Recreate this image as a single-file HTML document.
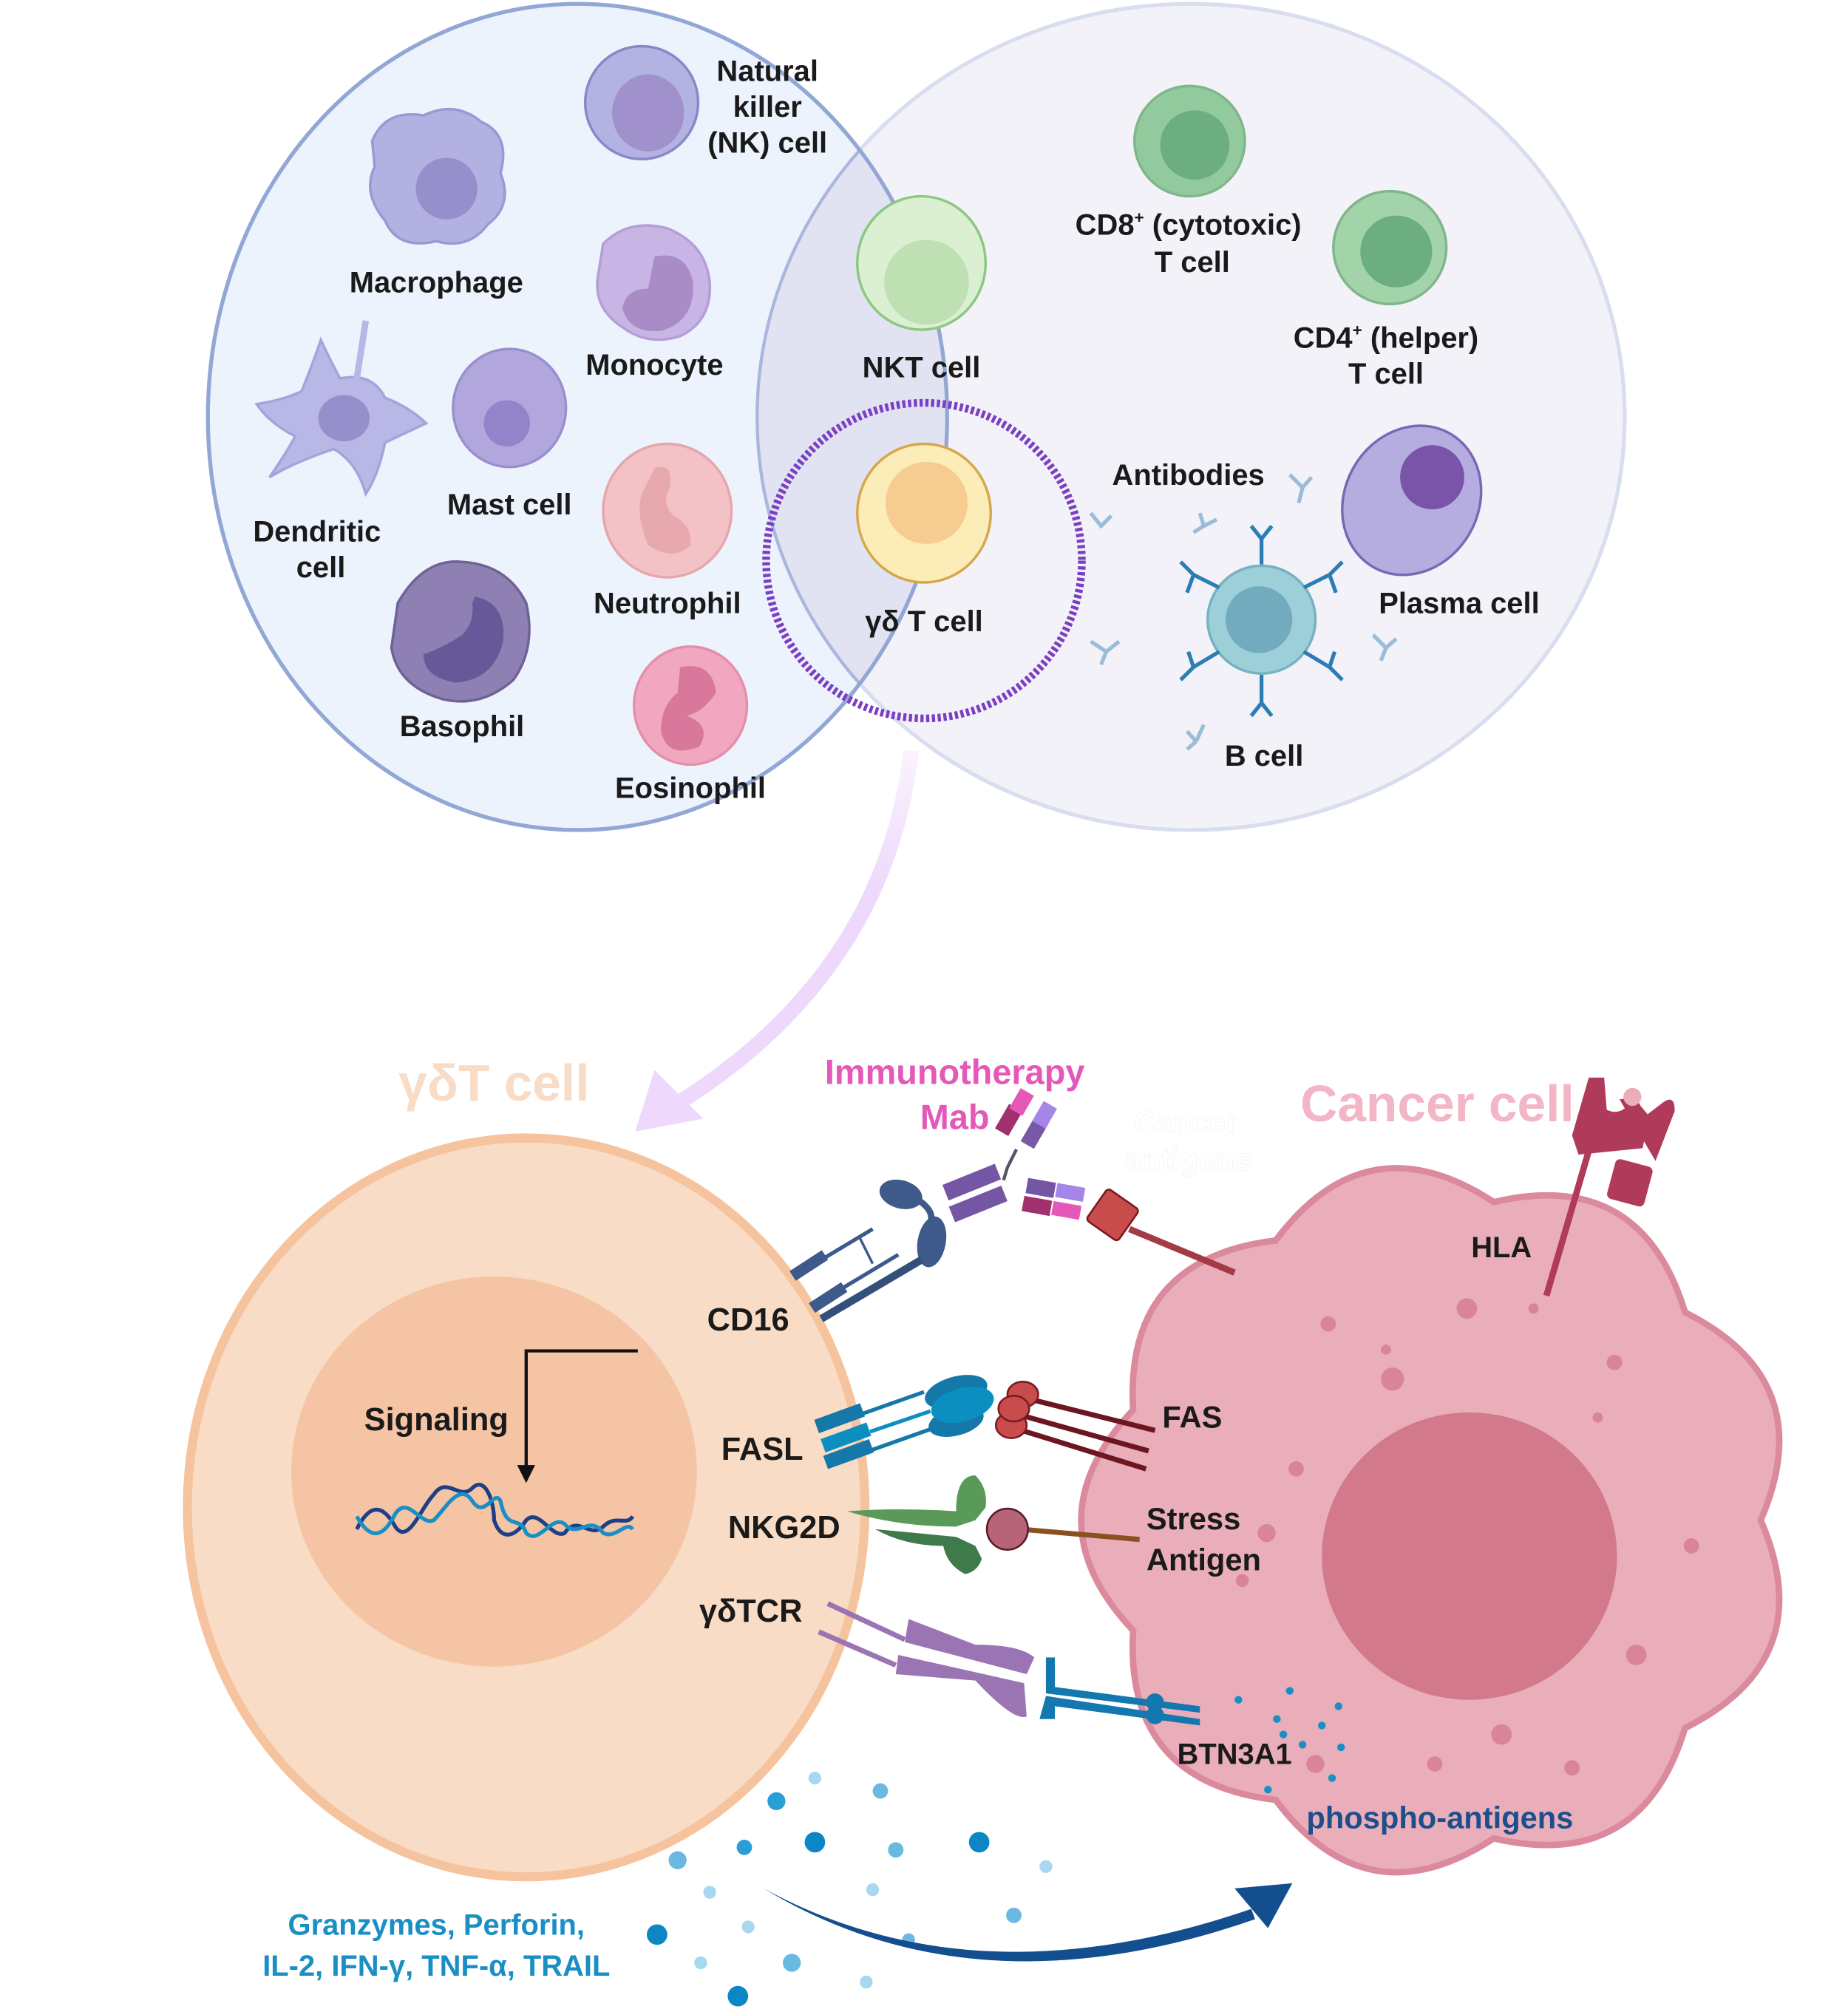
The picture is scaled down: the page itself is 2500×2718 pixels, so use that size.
<!DOCTYPE html>
<html><head><meta charset="utf-8"><style>
html,body{margin:0;padding:0;background:#fff}
svg{display:block}
text{font-family:"Liberation Sans",sans-serif;font-weight:bold}
</style></head><body>
<svg width="2500" height="2718" viewBox="0 0 1440 1566" preserveAspectRatio="none" xmlns="http://www.w3.org/2000/svg">
<defs>
<clipPath id="lc"><ellipse cx="450" cy="325" rx="288" ry="322"/></clipPath>
<linearGradient id="pg" x1="0" y1="0" x2="0" y2="1"><stop offset="0" stop-color="#eed8fb" stop-opacity="0.3"/><stop offset="0.4" stop-color="#eed8fb"/><stop offset="1" stop-color="#eed8fb"/></linearGradient>
</defs>
<!-- Venn -->
<ellipse cx="928" cy="325" rx="338" ry="322" fill="#f3f2f8" stroke="#d8def0" stroke-width="3"/>
<ellipse cx="450" cy="325" rx="288" ry="322" fill="#edf3fc" stroke="#93a7d6" stroke-width="3"/>
<ellipse cx="928" cy="325" rx="338" ry="322" fill="#e2e3f2" clip-path="url(#lc)"/>
<ellipse cx="928" cy="325" rx="338" ry="322" fill="none" stroke="#a9b7de" stroke-width="2.5" clip-path="url(#lc)"/>
<ellipse cx="450" cy="325" rx="288" ry="322" fill="none" stroke="#93a7d6" stroke-width="3"/>
<circle cx="720" cy="437" r="123" fill="none" stroke="#7b3fc4" stroke-width="6" stroke-dasharray="2.5 2"/>

<!-- cells left -->
<ellipse cx="500" cy="80" rx="44" ry="44" fill="#b3b3e3" stroke="#8b86c8" stroke-width="2"/>
<ellipse cx="505" cy="88" rx="28" ry="30" fill="#a090cc"/>
<path d="M290,110 Q300,85 330,90 Q355,78 375,95 Q398,105 390,135 Q400,160 380,175 Q365,195 340,188 Q310,195 300,172 Q282,150 292,130 Z" fill="#b3b1e2" stroke="#9b98d3" stroke-width="2"/>
<circle cx="348" cy="147" r="24" fill="#968fcb"/>
<path d="M470,190 Q490,170 520,178 Q550,190 553,220 Q555,250 530,262 Q505,270 485,255 Q462,240 466,215 Z" fill="#c9b5e5" stroke="#b39fd6" stroke-width="2"/>
<path d="M510,200 Q535,195 540,220 Q542,250 515,258 Q490,260 485,240 Q488,225 505,225 Z" fill="#a98bc6"/>
<path d="M265,295 Q290,290 300,310 Q320,318 332,330 Q315,338 300,345 Q295,370 285,385 Q278,360 260,350 Q230,360 210,372 Q225,350 230,340 Q210,330 200,315 Q220,312 235,305 Q245,280 250,265 Q258,282 265,295 Z" fill="#b8b7e6" stroke="#a5a3dc" stroke-width="2"/>
<line x1="278" y1="295" x2="285" y2="250" stroke="#b8b7e6" stroke-width="5"/>
<ellipse cx="268" cy="326" rx="20" ry="18" fill="#978fcb"/>
<ellipse cx="397" cy="318" rx="44" ry="46" fill="#b2a7dc" stroke="#9a8fcd" stroke-width="2"/>
<circle cx="395" cy="330" r="18" fill="#9184c8"/>
<ellipse cx="520" cy="398" rx="50" ry="52" fill="#f3c2c6" stroke="#e7a6ae" stroke-width="2"/>
<path d="M510,365 Q525,360 522,380 Q515,392 525,402 Q540,410 538,425 Q525,438 505,425 Q495,400 500,385 Z" fill="#e8a9ae"/>
<path d="M310,470 Q330,435 360,438 Q395,440 410,470 Q418,505 400,530 Q375,552 345,545 Q310,535 305,505 Z" fill="#8e80b3" stroke="#6f6296" stroke-width="2"/>
<path d="M370,465 Q395,470 392,500 Q385,530 355,532 Q330,528 330,510 Q345,505 360,495 Q370,485 368,470 Z" fill="#65599a"/>
<ellipse cx="538" cy="550" rx="44" ry="46" fill="#f1a7bf" stroke="#e58fa9" stroke-width="2"/>
<path d="M530,520 Q555,515 558,540 Q548,555 535,558 Q555,565 545,582 Q520,592 515,570 Q515,550 528,540 Z" fill="#d8789a"/>
<!-- cells middle -->
<ellipse cx="718" cy="205" rx="50" ry="52" fill="#dbf0d3" stroke="#8cc882" stroke-width="2"/>
<ellipse cx="722" cy="220" rx="33" ry="33" fill="#bfe0b3"/>
<ellipse cx="720" cy="400" rx="52" ry="54" fill="#fcecb8" stroke="#d5a84d" stroke-width="2"/>
<ellipse cx="722" cy="392" rx="32" ry="32" fill="#f6cc90"/>
<!-- cells right -->
<circle cx="927" cy="110" r="43" fill="#93ca9d" stroke="#7fb68a" stroke-width="2"/>
<circle cx="931" cy="113" r="27" fill="#6cae80"/>
<circle cx="1083" cy="193" r="44" fill="#a3d3a8" stroke="#7fb68a" stroke-width="2"/>
<circle cx="1088" cy="196" r="28" fill="#6cae82"/>
<ellipse cx="1100" cy="390" rx="52" ry="60" transform="rotate(30 1100 390)" fill="#b5ace0" stroke="#7d67b4" stroke-width="2"/>
<circle cx="1116" cy="372" r="25" fill="#7a54a8"/>
<circle cx="983" cy="483" r="42" fill="#9ccfd8" stroke="#76b2c2" stroke-width="2"/>
<circle cx="981" cy="483" r="26" fill="#72aabe"/>
<g stroke="#2c7cb5" stroke-width="3" fill="none">
<path d="M983,440 L983,420 M983,420 L975,410 M983,420 L991,410"/>
<path d="M983,526 L983,548 M983,548 L975,558 M983,548 L991,558"/>
<path d="M950,458 L930,448 M930,448 L920,438 M930,448 L925,462"/>
<path d="M1016,458 L1036,448 M1036,448 L1046,438 M1036,448 L1041,462"/>
<path d="M950,508 L930,520 M930,520 L920,530 M930,520 L926,508"/>
<path d="M1016,508 L1036,520 M1036,520 L1046,530 M1036,520 L1040,508"/>
</g>
<g stroke="#9bbcd8" stroke-width="3" fill="none">
<path d="M1005,370 L1015,380 L1022,372 M1015,380 L1012,392"/>
<path d="M935,400 L938,410 L930,415 M938,410 L948,405"/>
<path d="M850,500 L862,508 L872,500 M862,508 L858,518"/>
<path d="M1070,495 L1080,505 L1088,498 M1080,505 L1076,515"/>
<path d="M925,570 L932,578 M932,578 L938,565 M932,578 L925,584"/>
<path d="M850,400 L858,410 L866,402"/>
</g>
<!-- labels top -->
<g font-size="23" fill="#1a1a1a" text-anchor="middle">
<text x="598" y="63">Natural</text><text x="598" y="91">killer</text><text x="598" y="119">(NK) cell</text>
<text x="340" y="228">Macrophage</text>
<text x="510" y="292">Monocyte</text>
<text x="247" y="422">Dendritic</text><text x="250" y="450">cell</text>
<text x="397" y="401">Mast cell</text>
<text x="520" y="478">Neutrophil</text>
<text x="360" y="574">Basophil</text>
<text x="538" y="622">Eosinophil</text>
<text x="718" y="294">NKT cell</text>
<text x="720" y="492">γδ T cell</text>
<text x="926" y="183">CD8<tspan font-size="13" dy="-9">+</tspan><tspan dy="9"> (cytotoxic)</tspan></text><text x="929" y="212">T cell</text>
<text x="1080" y="271">CD4<tspan font-size="13" dy="-9">+</tspan><tspan dy="9"> (helper)</tspan></text><text x="1080" y="299">T cell</text>
<text x="926" y="378">Antibodies</text>
<text x="1137" y="478">Plasma cell</text>
<text x="985" y="597">B cell</text>
</g>

<!-- purple arrow -->
<path d="M710,585 Q690,760 525,862" fill="none" stroke="url(#pg)" stroke-width="12"/>
<polygon points="495,882 510,834 548,872" fill="#eed8fb"/>

<!-- gamma delta cell -->
<text x="385" y="858" font-size="40" fill="#f9dcc6" text-anchor="middle">γδT cell</text>
<ellipse cx="410" cy="1175" rx="264" ry="288" fill="#f8dcc5" stroke="#f5c39e" stroke-width="7"/>
<ellipse cx="385" cy="1147" rx="158" ry="152" fill="#f4c4a4"/>
<text x="340" y="1115" font-size="25" fill="#1a1a1a" text-anchor="middle">Signaling</text>
<polyline points="497,1053 410,1053 410,1145" fill="none" stroke="#111" stroke-width="2.5"/>
<polygon points="403,1142 417,1142 410,1156" fill="#111"/>
<path d="M278,1192 C288,1172 298,1172 308,1190 C318,1205 328,1175 338,1165 C348,1150 358,1170 368,1160 C378,1150 385,1170 385,1185 C390,1200 400,1200 410,1185 C420,1175 430,1200 440,1195 C450,1180 460,1200 470,1190 C480,1180 488,1190 493,1182" fill="none" stroke="#1c3f86" stroke-width="3"/>
<path d="M278,1182 C288,1200 298,1200 308,1180 C318,1165 328,1190 338,1185 C348,1175 358,1155 368,1170 C378,1185 385,1160 390,1170 C395,1195 405,1180 410,1195 C420,1205 430,1180 440,1188 C450,1200 460,1180 470,1195 C480,1200 488,1185 493,1192" fill="none" stroke="#1a8fc4" stroke-width="3"/>

<!-- cancer cell -->
<text x="1120" y="874" font-size="40" fill="#f2b6c6" text-anchor="middle">Cancer cell</text>
<path d="M1372,1185 Q1419,1294 1313,1347 Q1279,1460 1164,1433 Q1065,1498 994,1403 Q876,1389 883,1271 Q802,1185 883,1099 Q876,981 994,967 Q1065,872 1164,937 Q1279,910 1313,1023 Q1419,1076 1372,1185 Z" fill="#e9aeba" stroke="#db8a9e" stroke-width="5"/>
<ellipse cx="1145" cy="1213" rx="115" ry="112" fill="#d27a8c"/>
<g fill="#d98597">
<circle cx="1143" cy="1020" r="8"/><circle cx="1085" cy="1075" r="9"/><circle cx="1035" cy="1032" r="6"/><circle cx="1258" cy="1062" r="6"/><circle cx="1010" cy="1145" r="6"/><circle cx="987" cy="1195" r="7"/><circle cx="1275" cy="1290" r="8"/><circle cx="1170" cy="1352" r="8"/><circle cx="1225" cy="1378" r="6"/><circle cx="1118" cy="1375" r="6"/><circle cx="1318" cy="1205" r="6"/><circle cx="968" cy="1232" r="5"/><circle cx="1080" cy="1052" r="4"/><circle cx="1245" cy="1105" r="4"/><circle cx="1195" cy="1020" r="4"/><circle cx="1025" cy="1375" r="7"/>
</g>
<g fill="#1a8fc4">
<circle cx="965" cy="1325" r="3"/><circle cx="1005" cy="1318" r="3"/><circle cx="995" cy="1340" r="3"/><circle cx="1030" cy="1345" r="3"/><circle cx="1043" cy="1330" r="3"/><circle cx="1015" cy="1360" r="3"/><circle cx="1045" cy="1362" r="3"/><circle cx="1000" cy="1352" r="3"/><circle cx="1038" cy="1386" r="3"/><circle cx="988" cy="1395" r="3"/>
</g>

<!-- HLA -->
<line x1="1205" y1="1010" x2="1243" y2="880" stroke="#b03a5a" stroke-width="5"/>
<path d="M1238,840 L1250,840 L1252,865 Q1262,870 1270,860 L1275,858 L1285,870 L1280,895 L1250,898 L1230,900 L1225,885 Z" fill="#b03a5a"/>
<path d="M1262,857 L1275,855 L1282,870 L1295,860 Q1305,852 1305,866 L1290,905" fill="#b03a5a"/>
<rect x="1255" y="906" width="30" height="32" rx="4" transform="rotate(15 1270 922)" fill="#b03a5a"/>
<circle cx="1272" cy="855" r="7" fill="#e9aeba"/>
<text x="1170" y="980" font-size="23" fill="#1a1a1a" text-anchor="middle">HLA</text>

<!-- Mab + antigen -->
<text x="744" y="845" font-size="27" fill="#e458b8" text-anchor="middle">Immunotherapy</text>
<text x="744" y="880" font-size="27" fill="#e458b8" text-anchor="middle">Mab</text>
<text x="924" y="883" font-size="24" fill="#ffffff" text-anchor="middle" font-weight="normal" stroke="#f4f4f4" stroke-width="0.5">Cancer</text>
<text x="926" y="912" font-size="24" fill="#ffffff" text-anchor="middle" font-weight="normal" stroke="#f4f4f4" stroke-width="0.5">antigens</text>
<g>
<rect x="780" y="862" width="12" height="22" transform="rotate(30 786 873)" fill="#a03070"/>
<rect x="790" y="850" width="12" height="18" transform="rotate(30 796 859)" fill="#e458b8"/>
<rect x="800" y="872" width="12" height="22" transform="rotate(30 806 883)" fill="#7a58a8"/>
<rect x="808" y="860" width="12" height="18" transform="rotate(30 814 869)" fill="#a585e8"/>
<path d="M792,896 L785,910 M785,910 L782,920" stroke="#556" stroke-width="2.5" fill="none"/>
<rect x="735" y="915" width="44" height="13" transform="rotate(-22 757 921)" fill="#7456a4"/>
<rect x="740" y="932" width="44" height="13" transform="rotate(-22 762 938)" fill="#7456a4"/>
<rect x="800" y="920" width="22" height="12" transform="rotate(10 811 926)" fill="#7456a4"/>
<rect x="823" y="924" width="22" height="11" transform="rotate(10 834 929)" fill="#a585e8"/>
<rect x="797" y="934" width="22" height="12" transform="rotate(10 808 940)" fill="#a03070"/>
<rect x="820" y="938" width="22" height="11" transform="rotate(10 831 943)" fill="#e458b8"/>
<rect x="852" y="932" width="30" height="30" rx="3" transform="rotate(35 867 947)" fill="#c94c4c" stroke="#7a1a22" stroke-width="1.5"/>
<line x1="880" y1="958" x2="962" y2="992" stroke="#a33a44" stroke-width="5"/>
</g>
<!-- CD16 -->
<g fill="#3d5a8a">
<ellipse cx="702" cy="931" rx="17" ry="11" transform="rotate(15 702 931)"/>
<ellipse cx="726" cy="968" rx="11" ry="20" transform="rotate(10 726 968)"/>
<path d="M715,935 Q730,945 724,955" stroke="#3d5a8a" stroke-width="5" fill="none"/>
<line x1="640" y1="1028" x2="718" y2="982" stroke="#344f7a" stroke-width="6"/>
<rect x="615" y="982" width="30" height="9" transform="rotate(-33 630 986)"/>
<rect x="630" y="1007" width="30" height="9" transform="rotate(-33 645 1011)"/>
<line x1="640" y1="982" x2="680" y2="958" stroke="#3d5a8a" stroke-width="3"/>
<line x1="655" y1="1005" x2="700" y2="978" stroke="#3d5a8a" stroke-width="3"/>
<line x1="670" y1="965" x2="680" y2="985" stroke="#3d5a8a" stroke-width="2"/>
</g>
<text x="583" y="1037" font-size="25" fill="#1a1a1a" text-anchor="middle">CD16</text>
<!-- FASL -->
<g fill="#1478a8">
<rect x="635" y="1100" width="38" height="11" transform="rotate(-20 654 1105)"/>
<rect x="640" y="1115" width="38" height="11" transform="rotate(-20 659 1120)" fill="#0b8fc0"/>
<rect x="642" y="1128" width="38" height="11" transform="rotate(-20 661 1133)"/>
<line x1="672" y1="1102" x2="720" y2="1085" stroke="#1478a8" stroke-width="3"/>
<line x1="678" y1="1116" x2="725" y2="1100" stroke="#0b8fc0" stroke-width="3"/>
<line x1="680" y1="1130" x2="728" y2="1113" stroke="#1478a8" stroke-width="3"/>
<ellipse cx="745" cy="1085" rx="25" ry="12" transform="rotate(-15 745 1085)"/>
<ellipse cx="745" cy="1108" rx="22" ry="11" transform="rotate(-15 745 1108)"/>
<ellipse cx="750" cy="1095" rx="25" ry="13" transform="rotate(-15 750 1095)" fill="#0b8fc0"/>
</g>
<text x="594" y="1138" font-size="25" fill="#1a1a1a" text-anchor="middle">FASL</text>
<!-- FAS -->
<g stroke="#6b1620" stroke-width="4">
<line x1="800" y1="1090" x2="900" y2="1115"/><line x1="795" y1="1103" x2="895" y2="1131"/><line x1="793" y1="1114" x2="893" y2="1145"/>
</g>
<g fill="#c94c4c" stroke="#7a1a22" stroke-width="1.5">
<ellipse cx="797" cy="1087" rx="12" ry="10"/><ellipse cx="788" cy="1111" rx="12" ry="10"/><ellipse cx="790" cy="1098" rx="12" ry="10"/>
</g>
<text x="929" y="1113" font-size="24" fill="#1a1a1a" text-anchor="middle">FAS</text>
<!-- NKG2D -->
<path d="M660,1178 Q700,1175 745,1178 Q745,1150 760,1150 Q770,1160 768,1175 L760,1185 L745,1190 Q700,1190 660,1178 Z" fill="#5a9a58"/>
<path d="M682,1192 Q715,1195 745,1198 L760,1205 L765,1215 Q762,1225 752,1227 Q738,1220 735,1205 Q705,1205 682,1192 Z" fill="#3f7a4a"/>
<line x1="795" y1="1192" x2="888" y2="1200" stroke="#8a5020" stroke-width="4"/>
<circle cx="785" cy="1192" r="16" fill="#b86478" stroke="#5a1a2a" stroke-width="1.5"/>
<text x="611" y="1199" font-size="25" fill="#1a1a1a" text-anchor="middle">NKG2D</text>
<text x="930" y="1192" font-size="24" fill="#1a1a1a" text-anchor="middle">Stress</text>
<text x="938" y="1224" font-size="24" fill="#1a1a1a" text-anchor="middle">Antigen</text>
<!-- gdTCR -->
<line x1="645" y1="1250" x2="705" y2="1278" stroke="#9b74b4" stroke-width="4"/>
<line x1="638" y1="1272" x2="698" y2="1298" stroke="#9b74b4" stroke-width="4"/>
<path d="M708,1262 L760,1282 Q795,1282 806,1292 L800,1305 L705,1280 Z" fill="#9b74b4"/>
<path d="M700,1290 L798,1312 L800,1338 Q790,1342 760,1310 L698,1305 Z" fill="#9b74b4"/>
<path d="M815,1292 L822,1292 L822,1315 L935,1330 L935,1335 L815,1320 Z" fill="#1478b0"/>
<path d="M815,1322 L935,1340 L935,1345 L822,1330 L822,1340 L810,1340 Z" fill="#1478b0"/>
<circle cx="900" cy="1327" r="7" fill="#1478b0"/><circle cx="900" cy="1337" r="7" fill="#1478b0"/>
<text x="585" y="1264" font-size="25" fill="#1a1a1a" text-anchor="middle">γδTCR</text>
<text x="962" y="1375" font-size="23" fill="#1a1a1a" text-anchor="middle">BTN3A1</text>
<text x="1122" y="1425" font-size="24" fill="#1c4f8c" text-anchor="middle">phospho-antigens</text>

<!-- cytokine dots -->
<g fill="#2a9fd6">
<circle cx="605" cy="1404" r="7"/><circle cx="686" cy="1396" r="6" fill="#6ab9e0"/><circle cx="635" cy="1436" r="8" fill="#0c86c4"/><circle cx="580" cy="1440" r="6"/><circle cx="698" cy="1442" r="6" fill="#6ab9e0"/><circle cx="763" cy="1436" r="8" fill="#0c86c4"/><circle cx="528" cy="1450" r="7" fill="#6ab9e0"/><circle cx="815" cy="1455" r="5" fill="#a8d8ef"/><circle cx="635" cy="1386" r="5" fill="#a8d8ef"/><circle cx="553" cy="1475" r="5" fill="#a8d8ef"/><circle cx="680" cy="1473" r="5" fill="#a8d8ef"/><circle cx="790" cy="1493" r="6" fill="#6ab9e0"/><circle cx="583" cy="1502" r="5" fill="#a8d8ef"/><circle cx="512" cy="1508" r="8" fill="#0c86c4"/><circle cx="708" cy="1512" r="5" fill="#6ab9e0"/><circle cx="617" cy="1530" r="7" fill="#6ab9e0"/><circle cx="546" cy="1530" r="5" fill="#a8d8ef"/><circle cx="675" cy="1545" r="5" fill="#a8d8ef"/><circle cx="575" cy="1556" r="8" fill="#0c86c4"/>
</g>
<path d="M595,1472 Q760,1562 975,1488 L978,1496 Q760,1572 595,1472 Z" fill="#134f8e"/>
<polygon points="1007,1468 962,1472 988,1503" fill="#134f8e"/>
<text x="340" y="1508" font-size="23" fill="#1a8fc4" text-anchor="middle">Granzymes, Perforin,</text>
<text x="340" y="1540" font-size="23" fill="#1a8fc4" text-anchor="middle">IL-2, IFN-γ, TNF-α, TRAIL</text>
</svg>
</body></html>
